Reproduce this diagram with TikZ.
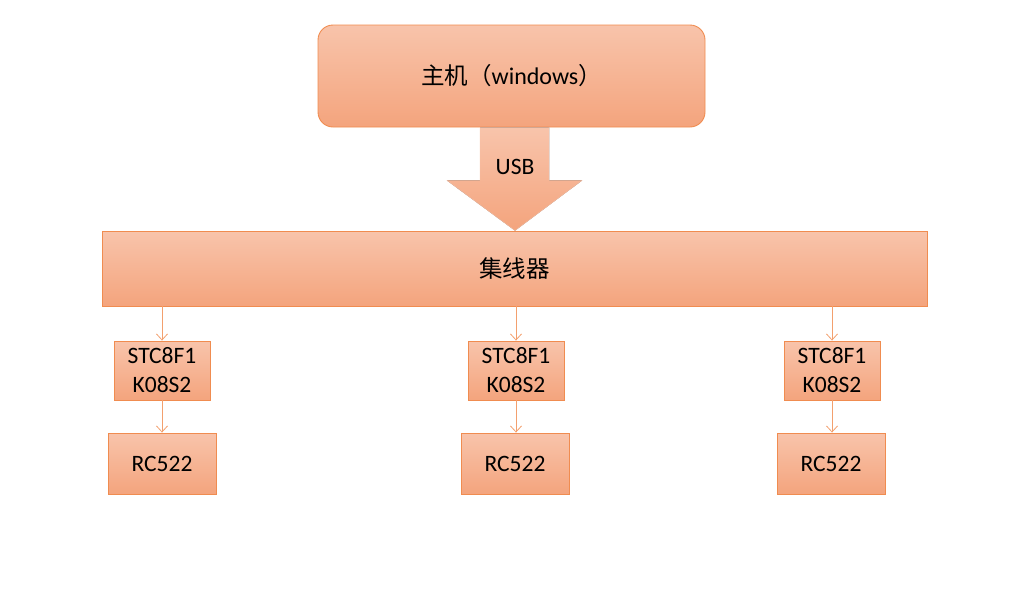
\documentclass[tikz,border=0pt]{standalone}
\usepackage{fontspec}
\setmainfont{Carlito}
\newfontfamily\cjk{Noto Sans CJK SC}
\usepackage{tikz}
\usetikzlibrary{calc,arrows.meta}
\definecolor{boxtop}{HTML}{F8C4AB}
\definecolor{boxbot}{HTML}{F4A47D}
\definecolor{boxedge}{HTML}{F08C50}
\definecolor{linkcol}{HTML}{F3A06E}
\tikzset{
  box/.style={draw=boxedge, line width=0.9pt, top color=boxtop, bottom color=boxbot,
    inner sep=0pt, align=center, font=\fontsize{23.5}{29}\selectfont},
  link/.style={draw=linkcol, line width=0.8pt, -{Straight Barb[length=6pt,width=11pt]}}
}

\begin{document}
\begin{tikzpicture}[x=1pt,y=-1pt]
\useasboundingbox (0,0) rectangle (1024,592);
% host and hub
\node[box, rounded corners=15pt, minimum width=387pt, minimum height=102pt,
  font=\fontsize{24}{28}\selectfont] (host) at (511.5,76) {{\cjk\fontsize{23.5}{28}\selectfont 主机（}windows{\cjk\fontsize{23.5}{28}\selectfont ）}};
\node[box, minimum width=825pt, minimum height=75pt,
  font=\fontsize{23.5}{28}\selectfont\cjk] (hub) at (514.5,268.5) {集线器};
% USB arrow
\coordinate (tip) at (hub.north -| 515,0);
\filldraw[draw=boxtop, top color=boxtop, bottom color=boxbot]
  ($(host.south -| tip)+(-35,0)$) -- ++(0,53) -- ++(-33,0) -- (tip)
  -- ($(host.south -| tip)+(67,53)$) -- ++(-33,0) -- ($(host.south -| tip)+(34,0)$) -- cycle;
\node[font=\fontsize{23.5}{28}\selectfont] (usb) at (515,167) {USB};
% boards
\node[box, minimum width=96pt, minimum height=59pt] (mcu1) at (162,370.5) {STC8F1\\K08S2};
\node[box, minimum width=96pt, minimum height=59pt] (mcu2) at (516,370.5) {STC8F1\\K08S2};
\node[box, minimum width=96pt, minimum height=59pt] (mcu3) at (832,370.5) {STC8F1\\K08S2};
\node[box, minimum width=108pt, minimum height=61pt] (rc1) at (162,463.5) {RC522};
\node[box, minimum width=108pt, minimum height=61pt] (rc2) at (515,463.5) {RC522};
\node[box, minimum width=108pt, minimum height=61pt] (rc3) at (831,463.5) {RC522};
% links
\foreach \i in {1,2,3}{
  \draw[link] (mcu\i.north |- hub.south) -- (mcu\i.north);
  \draw[link] (mcu\i.south) -- (mcu\i.south |- rc\i.north);
}
\end{tikzpicture}
\end{document}
